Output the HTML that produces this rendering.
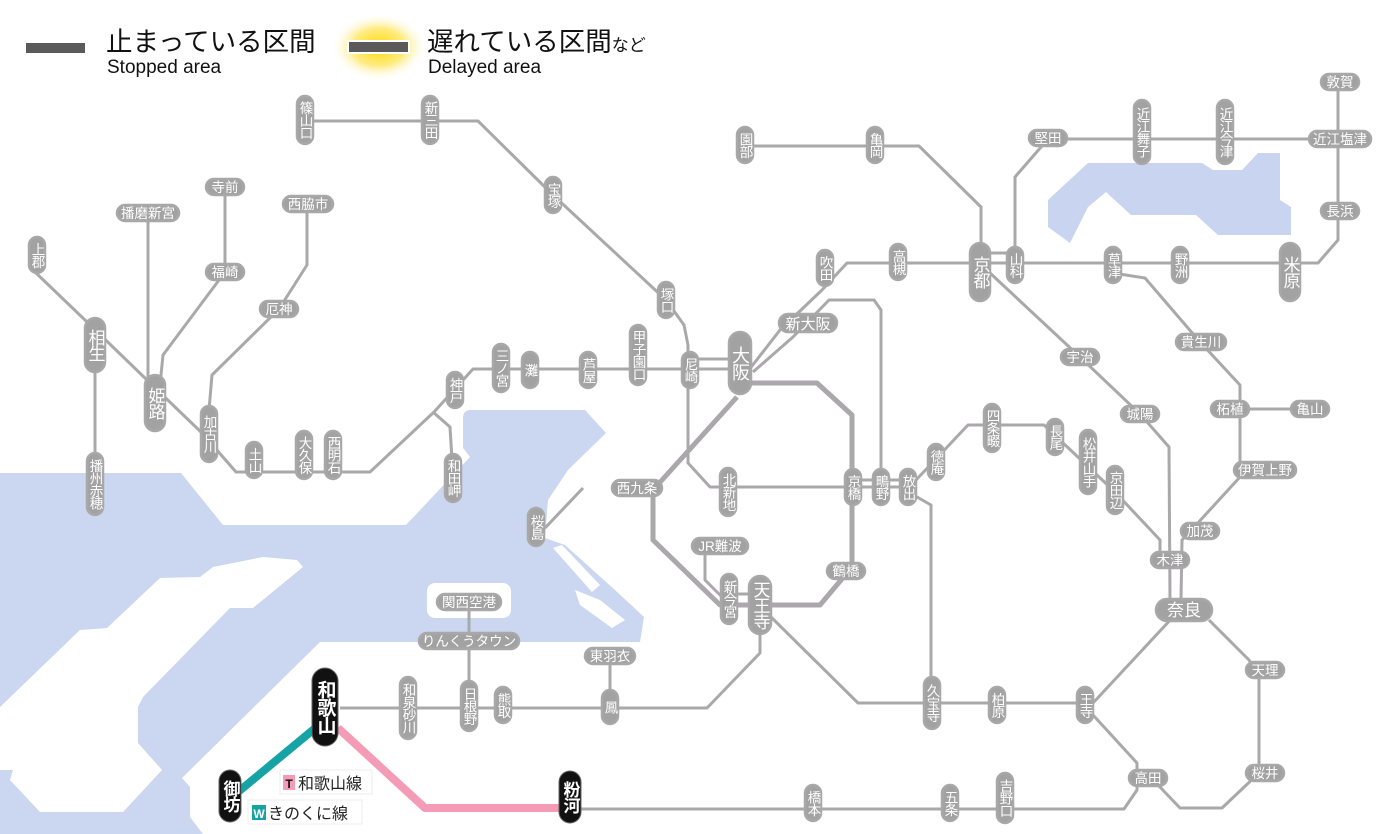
<!DOCTYPE html>
<html><head><meta charset="utf-8"><style>
html,body{margin:0;padding:0;background:#fff;width:1400px;height:834px;overflow:hidden}
svg{display:block}
.ln{fill:none;stroke:#aaa8aa;stroke-width:3;stroke-linejoin:round}
.lp{fill:none;stroke:#aaa8aa;stroke-width:5;stroke-linejoin:round}
.p{fill:#a2a2a2;stroke:#a8a8a8;stroke-width:2.5}
.b{fill:#111;stroke:#666;stroke-width:1}
text{font-family:"Liberation Sans","Noto Sans CJK JP",sans-serif;fill:#fff;font-size:13.5px}
.tv{writing-mode:vertical-rl;text-anchor:middle;letter-spacing:-1px}
.th{text-anchor:middle}
.big{font-size:17px}
.bk{font-size:19px;font-weight:bold}
</style></head><body>
<svg width="1400" height="834" viewBox="0 0 1400 834" xmlns="http://www.w3.org/2000/svg">
<defs><radialGradient id="g"><stop offset="0" stop-color="#ffd800"/><stop offset="0.55" stop-color="#ffe660" stop-opacity="0.8"/><stop offset="1" stop-color="#fff" stop-opacity="0"/></radialGradient></defs>
<!-- sea -->
<path fill="#cbd7f1" d="M0,473 L181,473 L223,525 L406,525 L470,457 L463,448 L463,418 Q463,410 471,410 L585,410 L606,433 L568,470 L548,500 L545,538 L565,545 L615,590 L644,617 L640,642 L320,642 L182,778 L190,787 L190,817 L203,834 L0,834 Z"/>
<path fill="#fff" d="M0,707 L80,630 L107,628 L160,578 L200,577 L213,567 L263,557 L297,560 L303,567 L253,608 L230,608 L143,697 L138,707 L138,743 L162,770 L123,812 L40,812 L10,780 L13,770 L0,770 Z"/>
<rect x="427" y="583" width="84" height="35" rx="8" fill="#fff"/>
<path fill="#fff" d="M553,548 L562,545 L600,585 L592,592 Z M575,590 L600,600 L625,620 L612,628 L580,605 Z"/>
<!-- lake -->
<path fill="#c8d4f0" d="M1088,163 L1202,163 L1213,170 L1242,170 L1258,153 L1280,153 L1280,200 L1291,207 L1291,235 L1218,235 L1196,215 L1131,215 L1106,192 L1088,207 L1070,243 L1048,227 L1048,200 Z"/>
<!-- legend -->
<rect x="26" y="43" width="59" height="10" fill="#5a5a5a"/>
<text x="106" y="51" style="fill:#111;font-size:26.5px">止まっている区間</text>
<text x="107" y="73" style="fill:#111;font-size:19px">Stopped area</text>
<ellipse cx="379" cy="47" rx="48" ry="34" fill="url(#g)"/>
<rect x="347" y="40" width="63" height="14" fill="#fff"/>
<rect x="349" y="42" width="59" height="10" fill="#5a5a5a"/>
<text x="427" y="51" style="fill:#111;font-size:26.5px">遅れている区間<tspan style="font-size:17px">など</tspan></text>
<text x="428" y="73" style="fill:#111;font-size:19px">Delayed area</text>
<!-- lines -->
<g class="ln">
<polyline points="305,121 478,121 553,195 666,300 684,325 688,345 688,463 710,487 910,487"/>
<polyline points="688,359 740,359"/>
<polyline points="36,273 85,320 147,380 202,433 236,472 370,472 434,412 473,369 750,369"/>
<polyline points="433,412 450,427 452,460"/>
<polyline points="148,213 148,385"/>
<polyline points="225,187 225,272 163,355 160,385"/>
<polyline points="307,204 307,265 279,309 212,375 209,410"/>
<polyline points="95,345 95,485"/>
<polyline points="745,375 780,330 822,290 847,263 1318,263 1338,240 1338,82"/>
<polyline points="753,372 793,337 829,300 874,300 881,310 881,487"/>
<polyline points="745,146 919,146 981,207 981,250"/>
<polyline points="980,253 1015,253"/>
<polyline points="1015,250 1015,177 1048,139 1340,139"/>
<polyline points="990,273 1080,357 1140,414 1169,447 1170,600"/>
<polyline points="1113,273 1145,278 1200,342 1240,385 1240,477 1196,525 1182,540 1181,600"/>
<polyline points="1230,409 1310,409"/>
<polyline points="583,488 545,528"/>
<polyline points="705,546 705,580 725,600"/>
<polyline points="729,594 760,594"/>
<polyline points="760,620 760,653 707,708 340,708"/>
<polyline points="771,617 858,703 1093,703 1173,617"/>
<polyline points="1209,620 1249,660 1259,675 1259,773 1222,808 1180,808 1158,785"/>
<polyline points="1093,715 1137,763 1137,790 1124,809 580,809"/>
<polyline points="910,493 931,505 931,703"/>
<polyline points="916,480 968,425 1044,425 1115,492 1160,540 1160,560"/>
<polyline points="853,480 910,480"/>
<polyline points="469,602 469,705"/>
<polyline points="610,656 610,707"/>
</g>
<g class="lp">
<polyline points="745,383 817,383 852,415 852,567 820,605 720,605 653,540 653,490 737,397"/>
</g>
<polyline points="325,720 238,792" fill="none" stroke="#16a3a6" stroke-width="8"/>
<polyline points="338,728 425,808 565,808" fill="none" stroke="#f39bb7" stroke-width="8" stroke-linejoin="round"/>
<!-- vertical stations -->
<g>
<rect class="p" x="297" y="96" width="16" height="48" rx="8"/><text class="tv" x="305" y="120">篠山口</text>
<rect class="p" x="422" y="96" width="16" height="48" rx="8"/><text class="tv" x="430" y="120">新三田</text>
<rect class="p" x="545" y="177" width="16" height="36" rx="8"/><text class="tv" x="553" y="195">宝塚</text>
<rect class="p" x="658" y="282" width="16" height="36" rx="8"/><text class="tv" x="666" y="300">塚口</text>
<rect class="p" x="682" y="352" width="16" height="36" rx="8"/><text class="tv" x="690" y="370">尼崎</text>
<rect class="p" x="630" y="325" width="16" height="60" rx="8"/><text class="tv" x="638" y="355">甲子園口</text>
<rect class="p" x="580" y="352" width="16" height="36" rx="8"/><text class="tv" x="588" y="370">芦屋</text>
<rect class="p" x="522" y="352" width="16" height="36" rx="8"/><text class="tv" x="530" y="370">灘</text>
<rect class="p" x="493" y="344" width="16" height="48" rx="8"/><text class="tv" x="501" y="368">三ノ宮</text>
<rect class="p" x="447" y="372" width="16" height="36" rx="8"/><text class="tv" x="455" y="390">神戸</text>
<rect class="p" x="445" y="454" width="16" height="48" rx="8"/><text class="tv" x="453" y="478">和田岬</text>
<rect class="p" x="325" y="431" width="16" height="48" rx="8"/><text class="tv" x="333" y="455">西明石</text>
<rect class="p" x="296" y="431" width="16" height="48" rx="8"/><text class="tv" x="304" y="455">大久保</text>
<rect class="p" x="246" y="442" width="16" height="36" rx="8"/><text class="tv" x="254" y="460">土山</text>
<rect class="p" x="201" y="406" width="16" height="56" rx="8"/><text class="tv" x="209" y="434">加古川</text>
<rect class="p" x="145" y="375" width="20" height="56" rx="10"/><text class="tv big" x="155" y="403">姫路</text>
<rect class="p" x="85" y="318" width="20" height="54" rx="10"/><text class="tv big" x="95" y="345">相生</text>
<rect class="p" x="29" y="237" width="16" height="36" rx="8"/><text class="tv" x="37" y="255">上郡</text>
<rect class="p" x="87" y="453" width="16" height="62" rx="8"/><text class="tv" x="95" y="484">播州赤穂</text>
<rect class="p" x="737" y="127" width="16" height="36" rx="8"/><text class="tv" x="745" y="145">園部</text>
<rect class="p" x="867" y="127" width="16" height="36" rx="8"/><text class="tv" x="875" y="145">亀岡</text>
<rect class="p" x="817" y="250" width="16" height="36" rx="8"/><text class="tv" x="825" y="268">吹田</text>
<rect class="p" x="890" y="244" width="16" height="36" rx="8"/><text class="tv" x="898" y="262">高槻</text>
<rect class="p" x="970" y="243" width="20" height="58" rx="10"/><text class="tv big" x="980" y="272">京都</text>
<rect class="p" x="1007" y="247" width="16" height="36" rx="8"/><text class="tv" x="1015" y="265">山科</text>
<rect class="p" x="1134" y="100" width="16" height="64" rx="8"/><text class="tv" x="1142" y="132">近江舞子</text>
<rect class="p" x="1217" y="100" width="16" height="64" rx="8"/><text class="tv" x="1225" y="132">近江今津</text>
<rect class="p" x="1172" y="247" width="16" height="36" rx="8"/><text class="tv" x="1180" y="265">野洲</text>
<rect class="p" x="1105" y="247" width="16" height="36" rx="8"/><text class="tv" x="1113" y="265">草津</text>
<rect class="p" x="1280" y="243" width="20" height="58" rx="10"/><text class="tv big" x="1290" y="272">米原</text>
<rect class="p" x="729" y="332" width="22" height="62" rx="11"/><text class="tv" x="740" y="363" style="font-size:18px">大阪</text>
<rect class="p" x="720" y="468" width="16" height="48" rx="8"/><text class="tv" x="728" y="492">北新地</text>
<rect class="p" x="845" y="469" width="16" height="36" rx="8"/><text class="tv" x="853" y="487">京橋</text>
<rect class="p" x="873" y="469" width="16" height="36" rx="8"/><text class="tv" x="881" y="487">鴫野</text>
<rect class="p" x="900" y="469" width="16" height="36" rx="8"/><text class="tv" x="908" y="487">放出</text>
<rect class="p" x="928" y="444" width="16" height="36" rx="8"/><text class="tv" x="936" y="462">徳庵</text>
<rect class="p" x="984" y="404" width="16" height="48" rx="8"/><text class="tv" x="992" y="428">四条畷</text>
<rect class="p" x="1047" y="419" width="16" height="36" rx="8"/><text class="tv" x="1055" y="437">長尾</text>
<rect class="p" x="1080" y="430" width="16" height="64" rx="8"/><text class="tv" x="1088" y="462">松井山手</text>
<rect class="p" x="1107" y="466" width="16" height="48" rx="8"/><text class="tv" x="1115" y="490">京田辺</text>
<rect class="p" x="528" y="508" width="16" height="38" rx="8"/><text class="tv" x="536" y="527">桜島</text>
<rect class="p" x="721" y="574" width="16" height="50" rx="8"/><text class="tv" x="729" y="599">新今宮</text>
<rect class="p" x="749" y="576" width="22" height="58" rx="11"/><text class="tv big" x="760" y="605">天王寺</text>
<rect class="p" x="924" y="677" width="16" height="52" rx="8"/><text class="tv" x="932" y="703">久宝寺</text>
<rect class="p" x="989" y="687" width="16" height="36" rx="8"/><text class="tv" x="997" y="705">柏原</text>
<rect class="p" x="1077" y="687" width="16" height="36" rx="8"/><text class="tv" x="1085" y="705">王寺</text>
<rect class="p" x="400" y="677" width="16" height="62" rx="8"/><text class="tv" x="408" y="708">和泉砂川</text>
<rect class="p" x="461" y="681" width="16" height="50" rx="8"/><text class="tv" x="469" y="706">日根野</text>
<rect class="p" x="495" y="687" width="16" height="36" rx="8"/><text class="tv" x="503" y="705">熊取</text>
<rect class="p" x="602" y="690" width="16" height="34" rx="8"/><text class="tv" x="610" y="707">鳳</text>
<rect class="p" x="805" y="785" width="16" height="36" rx="8"/><text class="tv" x="813" y="803">橋本</text>
<rect class="p" x="942" y="785" width="16" height="36" rx="8"/><text class="tv" x="950" y="803">五条</text>
<rect class="p" x="997" y="773" width="16" height="50" rx="8"/><text class="tv" x="1005" y="798">吉野口</text>
</g>
<!-- black stations -->
<rect class="b" x="312" y="668" width="26" height="78" rx="13"/><text class="tv bk" x="325" y="707">和歌山</text>
<rect class="b" x="219" y="770" width="22" height="52" rx="11"/><text class="tv" x="230" y="796" style="font-size:17px;font-weight:bold">御坊</text>
<rect class="b" x="559" y="771" width="22" height="52" rx="11"/><text class="tv" x="570" y="797" style="font-size:17px;font-weight:bold">粉河</text>
<!-- horizontal stations -->
<g>
<rect class="p" x="117" y="205" width="62" height="16" rx="8"/><text class="th" x="148" y="218">播磨新宮</text>
<rect class="p" x="206" y="179" width="38" height="16" rx="8"/><text class="th" x="225" y="192">寺前</text>
<rect class="p" x="206" y="264" width="38" height="16" rx="8"/><text class="th" x="225" y="277">福崎</text>
<rect class="p" x="283" y="196" width="50" height="16" rx="8"/><text class="th" x="308" y="209">西脇市</text>
<rect class="p" x="260" y="301" width="38" height="16" rx="8"/><text class="th" x="279" y="314">厄神</text>
<rect class="p" x="779" y="314" width="58" height="18" rx="9"/><text class="th" x="808" y="329" style="font-size:15px">新大阪</text>
<rect class="p" x="1029" y="130" width="38" height="16" rx="8"/><text class="th" x="1048" y="143">堅田</text>
<rect class="p" x="1309" y="131" width="62" height="16" rx="8"/><text class="th" x="1340" y="144">近江塩津</text>
<rect class="p" x="1321" y="74" width="38" height="16" rx="8"/><text class="th" x="1340" y="87">敦賀</text>
<rect class="p" x="1321" y="203" width="38" height="16" rx="8"/><text class="th" x="1340" y="216">長浜</text>
<rect class="p" x="1061" y="349" width="38" height="16" rx="8"/><text class="th" x="1080" y="362">宇治</text>
<rect class="p" x="1121" y="406" width="38" height="16" rx="8"/><text class="th" x="1140" y="419">城陽</text>
<rect class="p" x="1176" y="334" width="50" height="16" rx="8"/><text class="th" x="1201" y="347">貴生川</text>
<rect class="p" x="1211" y="401" width="38" height="16" rx="8"/><text class="th" x="1230" y="414">柘植</text>
<rect class="p" x="1291" y="401" width="38" height="16" rx="8"/><text class="th" x="1310" y="414">亀山</text>
<rect class="p" x="1234" y="462" width="62" height="16" rx="8"/><text class="th" x="1265" y="475">伊賀上野</text>
<rect class="p" x="1181" y="523" width="38" height="16" rx="8"/><text class="th" x="1200" y="536">加茂</text>
<rect class="p" x="1151" y="552" width="38" height="16" rx="8"/><text class="th" x="1170" y="565">木津</text>
<rect class="p" x="1156" y="599" width="56" height="22" rx="11"/><text class="th big" x="1184" y="616">奈良</text>
<rect class="p" x="1246" y="662" width="38" height="16" rx="8"/><text class="th" x="1265" y="675">天理</text>
<rect class="p" x="1246" y="765" width="38" height="16" rx="8"/><text class="th" x="1265" y="778">桜井</text>
<rect class="p" x="1129" y="770" width="38" height="16" rx="8"/><text class="th" x="1148" y="783">高田</text>
<rect class="p" x="612" y="480" width="50" height="16" rx="8"/><text class="th" x="637" y="493">西九条</text>
<rect class="p" x="692" y="538" width="56" height="16" rx="8"/><text class="th" x="720" y="551">JR難波</text>
<rect class="p" x="827" y="563" width="38" height="16" rx="8"/><text class="th" x="846" y="576">鶴橋</text>
<rect class="p" x="585" y="648" width="50" height="16" rx="8"/><text class="th" x="610" y="661">東羽衣</text>
<rect class="p" x="419" y="633" width="100" height="16" rx="8"/><text class="th" x="469" y="646">りんくうタウン</text>
<rect class="p" x="437" y="594" width="64" height="16" rx="8"/><text class="th" x="469" y="607">関西空港</text>
</g>
<!-- route legend -->
<rect x="280" y="770" width="92" height="24" fill="#fff" stroke="#eee"/>
<rect x="283" y="775" width="12" height="15" fill="#f39bb7"/><text x="289" y="788" class="th" style="fill:#111;font-size:12px;font-weight:bold">T</text>
<text x="298" y="789" style="fill:#222;font-size:16px">和歌山線</text>
<rect x="248" y="800" width="114" height="24" fill="#fff" stroke="#eee"/>
<rect x="252" y="805" width="14" height="15" fill="#16a3a6"/><text x="259" y="818" class="th" style="fill:#fff;font-size:12px;font-weight:bold">W</text>
<text x="268" y="819" style="fill:#222;font-size:16px">きのくに線</text>
</svg>
</body></html>
